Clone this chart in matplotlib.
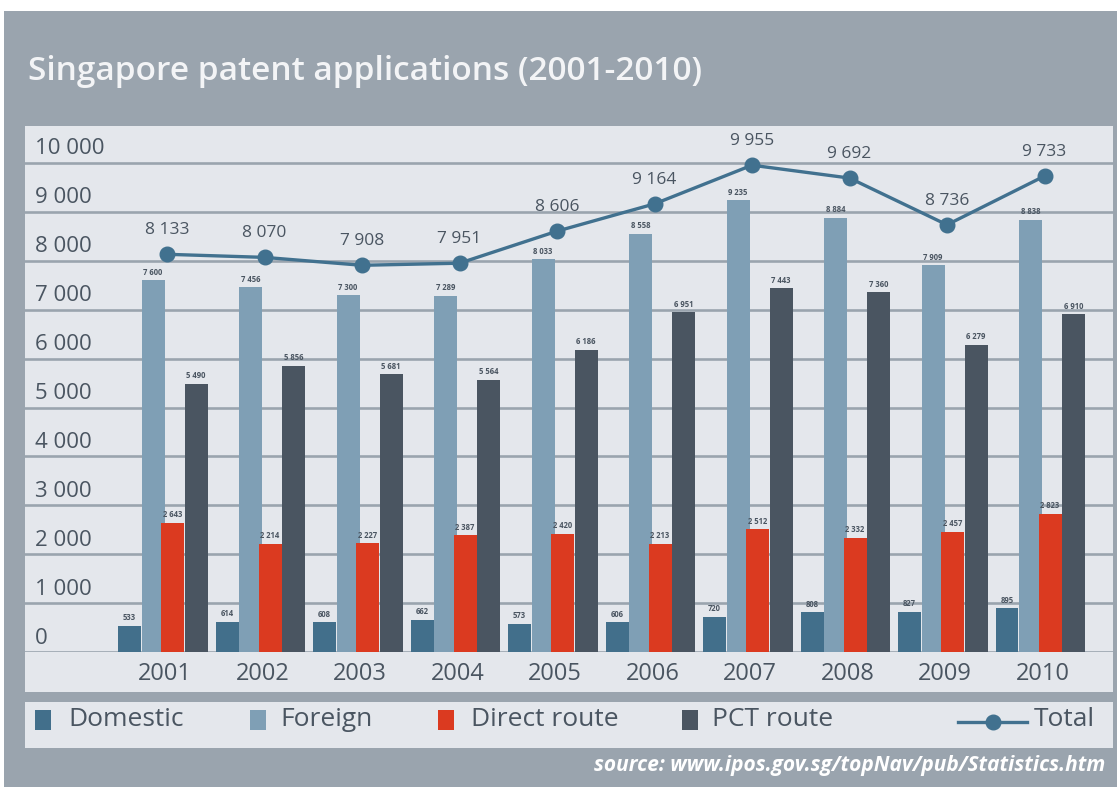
import matplotlib
matplotlib.use("Agg")
import matplotlib.pyplot as plt
from matplotlib.patches import Rectangle
from matplotlib.lines import Line2D
import numpy as np

years = ["2001", "2002", "2003", "2004", "2005", "2006", "2007", "2008", "2009", "2010"]
domestic = [533, 614, 608, 662, 573, 606, 720, 808, 827, 895]
foreign = [7600, 7456, 7300, 7289, 8033, 8558, 9235, 8884, 7909, 8838]
direct = [2643, 2214, 2227, 2387, 2420, 2213, 2512, 2332, 2457, 2823]
pct = [5490, 5856, 5681, 5564, 6186, 6951, 7443, 7360, 6279, 6910]
total = [8133, 8070, 7908, 7951, 8606, 9164, 9955, 9692, 8736, 9733]
yticks = [0, 1000, 2000, 3000, 4000, 5000, 6000, 7000, 8000, 9000, 10000]

C_DOM = "#426f8b"
C_FOR = "#7f9fb5"
C_DIR = "#db3a20"
C_PCT = "#4a5561"
C_TOT = "#41718f"
C_PANEL = "#e4e7ec"
C_OUT = "#9aa4ae"
C_TXT = "#4a5561"

FONT = ["Open Sans", "DejaVu Sans"]
plt.rcParams["font.family"] = FONT

W, H = 1117, 787
fig = plt.figure(figsize=(W / 100, H / 100), dpi=100, facecolor="white")


def fx(x):
    return x / W


def fy(y):
    return 1 - y / H


def frect(x0, y0, x1, y1, color, z=-5):
    fig.patches.append(Rectangle((fx(x0), fy(y1)), fx(x1) - fx(x0), fy(y0) - fy(y1),
                                 transform=fig.transFigure, facecolor=color,
                                 edgecolor="none", zorder=z))


# backgrounds
frect(4, 11, W, H, C_OUT, z=-10)
frect(25, 126, 1113, 692, C_PANEL, z=-9)
frect(25, 702, 1113, 748, C_PANEL, z=-9)

fig.text(fx(28), fy(72), "Singapore patent applications (2001-2010)", color="#f3f4f6",
         fontsize=24, va="center", ha="left", fontweight="semibold")

# axes: y=0 at px 652, 10000 at px 163
ppu = (652 - 163) / 10000.0
ymax = (652 - 126) / ppu
x0px, step = 163.0, 97.5
ax = fig.add_axes([fx(25), fy(652), fx(1113) - fx(25), fy(126) - fy(652)])
ax.set_zorder(1)
ax.set_facecolor("none")
ax.set_xlim((25 - x0px) / step, (1113 - x0px) / step)
ax.set_ylim(0, ymax)
for s in ax.spines.values():
    s.set_visible(False)

for v in yticks:
    ax.axhline(v, color=C_OUT, lw=1.9, zorder=0)
    ax.text(0.0092, v + 14 / ppu, f"{v:,}".replace(",", " "), transform=ax.get_yaxis_transform(),
            ha="left", va="center", fontsize=16, color=C_TXT)
ax.set_yticks([])

x = np.arange(len(years))
bw = 23 / step
offs = [-33.5 / step, -10 / step, 9.5 / step, 33 / step]
series = [(domestic, C_DOM), (foreign, C_FOR), (direct, C_DIR), (pct, C_PCT)]
for (vals, col), off in zip(series, offs):
    ax.bar(x + off, vals, width=bw, color=col, zorder=2, linewidth=0)
    for xi, v in zip(x, vals):
        ax.text(xi + off, v + 8 / ppu, f"{v:,}".replace(",", " "), ha="center", va="center",
                fontsize=5.5, color=C_TXT, zorder=4, fontweight="bold")

tx = x + 4 / step
ax.plot(tx, total, color=C_TOT, lw=2.4, marker="o", markersize=10.5, zorder=5)
for xi, v in zip(tx, total):
    ax.text(xi, v + 24 / ppu, f"{v:,}".replace(",", " "), ha="center", va="center",
            fontsize=12.5, color=C_TXT, zorder=6)

ax.set_xticks(x + 2 / step, years)
ax.tick_params(axis="x", length=0, pad=7, labelsize=17, labelcolor=C_TXT)

# legend
ly = 720
items = [(35, 68, "Domestic", C_DOM), (250, 280, "Foreign", C_FOR),
         (438, 471, "Direct route", C_DIR), (682, 712, "PCT route", C_PCT)]
for sx, tx0, lab, col in items:
    frect(sx, ly - 10, sx + 16, ly + 10, col, z=2)
    fig.text(fx(tx0), fy(ly), lab, fontsize=19, color=C_TXT, va="center", ha="left")
fig.lines.append(Line2D([fx(958), fx(1027)], [fy(722), fy(722)], transform=fig.transFigure,
                        color=C_TOT, lw=2.4, zorder=3))
fig.lines.append(Line2D([fx(993)], [fy(722)], transform=fig.transFigure, color=C_TOT,
                        marker="o", markersize=10.5, lw=0, zorder=3))
fig.text(fx(1034), fy(ly), "Total", fontsize=19, color=C_TXT, va="center", ha="left")

fig.text(fx(1105), fy(766), "source: www.ipos.gov.sg/topNav/pub/Statistics.htm", fontsize=15,
         color="white", ha="right", va="center", style="italic", fontweight="bold")

fig.savefig("out.png", dpi=100, facecolor=fig.get_facecolor())
